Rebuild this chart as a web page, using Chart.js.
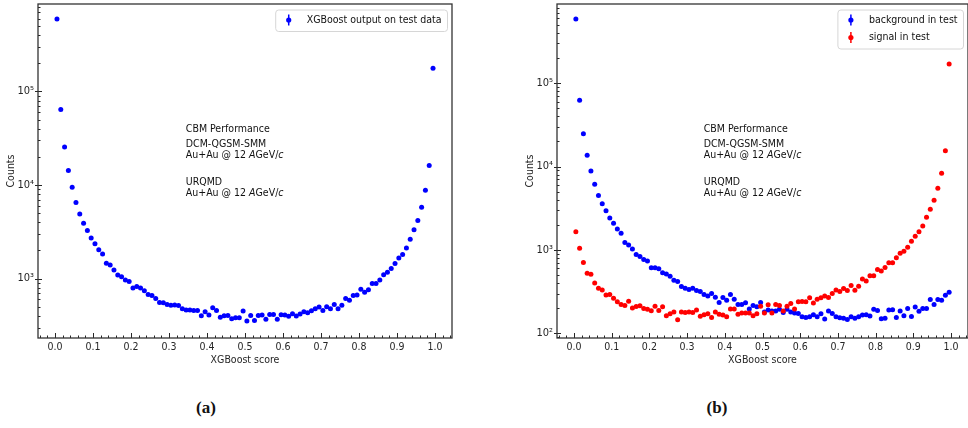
<!DOCTYPE html>
<html>
<head>
<meta charset="utf-8">
<script src="https://cdn.jsdelivr.net/npm/chart.js@4.4.1/dist/chart.umd.min.js"></script>
<style>
  body { margin: 0; width: 968px; height: 428px; overflow: hidden; background: #fff; position: relative; }
  .panel { position: absolute; top: 0; height: 370px; }
  .cap { position: absolute; top: 398px; font: bold 17px "Liberation Serif", serif; color: #111; transform: translateX(-50%); }
</style>
</head>
<body>
<div class="panel" style="left:0;width:470px"><canvas id="chartA"></canvas></div>
<div class="panel" style="left:519px;width:453px"><canvas id="chartB"></canvas></div>
<div class="cap" style="left:206px">(a)</div>
<div class="cap" style="left:717px">(b)</div>
<script>
// histogram bin centres of the classifier score
const scoreBins = [
  0.005, 0.015, 0.025, 0.035, 0.045, 0.055, 0.065, 0.075, 0.085, 0.095,
  0.105, 0.115, 0.125, 0.135, 0.145, 0.155, 0.165, 0.175, 0.185, 0.195,
  0.205, 0.215, 0.225, 0.235, 0.245, 0.255, 0.265, 0.275, 0.285, 0.295,
  0.305, 0.315, 0.325, 0.335, 0.345, 0.355, 0.365, 0.375, 0.385, 0.395,
  0.405, 0.415, 0.425, 0.435, 0.445, 0.455, 0.465, 0.475, 0.485, 0.495,
  0.505, 0.515, 0.525, 0.535, 0.545, 0.555, 0.565, 0.575, 0.585, 0.595,
  0.605, 0.615, 0.625, 0.635, 0.645, 0.655, 0.665, 0.675, 0.685, 0.695,
  0.705, 0.715, 0.725, 0.735, 0.745, 0.755, 0.765, 0.775, 0.785, 0.795,
  0.805, 0.815, 0.825, 0.835, 0.845, 0.855, 0.865, 0.875, 0.885, 0.895,
  0.905, 0.915, 0.925, 0.935, 0.945, 0.955, 0.965, 0.975, 0.985, 0.995
];

// all test candidates
const testCounts = [
  593000, 64000, 25500, 14300, 9450, 6500, 4900, 3900, 3270, 2710,
  2360, 2040, 1830, 1460, 1400, 1240, 1090, 1050, 968, 929,
  796, 822, 796, 740, 676, 660, 613, 556, 553, 528,
  520, 523, 516, 476, 461, 461, 456, 456, 401, 443,
  408, 488, 457, 387, 401, 403, 372, 381, 381, 450,
  352, 404, 357, 404, 408, 369, 414, 414, 369, 411,
  408, 395, 421, 398, 418, 443, 432, 453, 476, 496,
  457, 500, 476, 528, 476, 520, 613, 587, 660, 670,
  769, 716, 759, 885, 885, 968, 1100, 1170, 1280, 1450,
  1660, 1810, 2120, 2640, 3320, 4170, 5800, 8800, 16200, 177000
];

// background part of the test sample
const backgroundCounts = [
  587000, 62200, 24700, 13700, 8870, 6150, 4500, 3580, 2960, 2420,
  2090, 1790, 1590, 1230, 1150, 1030, 883, 836, 771, 736,
  614, 614, 597, 535, 515, 483, 433, 418, 364, 347,
  335, 347, 326, 318, 292, 281, 300, 272, 235, 270,
  250, 292, 257, 222, 222, 233, 196, 216, 208, 235,
  181, 190, 185, 185, 194, 178, 195, 181, 175, 173,
  158, 155, 158, 167, 158, 172, 149, 185, 173, 158,
  154, 152, 147, 158, 152, 158, 166, 167, 162, 194,
  188, 150, 152, 190, 192, 155, 185, 163, 199, 159,
  207, 184, 199, 199, 255, 222, 255, 250, 287, 312
];

// signal part of the test sample
const signalCounts = [
  1650, 1050, 710, 525, 511, 402, 347, 332, 289, 292,
  264, 239, 222, 216, 243, 201, 210, 214, 199, 194,
  187, 212, 188, 208, 163, 172, 181, 146, 181, 178,
  180, 178, 190, 160, 167, 172, 155, 180, 170, 166,
  158, 196, 196, 169, 175, 175, 175, 163, 172, 212,
  175, 220, 175, 222, 216, 185, 212, 228, 196, 239,
  241, 239, 267, 232, 257, 267, 281, 269, 301, 332,
  318, 345, 327, 374, 330, 368, 449, 425, 492, 492,
  585, 558, 618, 703, 703, 807, 916, 968, 1080, 1270,
  1460, 1650, 1940, 2460, 3070, 3950, 5500, 8300, 15500, 170000
];

const scoreTicks = [0.0, 0.1, 0.2, 0.3, 0.4, 0.5, 0.6, 0.7, 0.8, 0.9, 1.0];
const countTicksA = [1e3, 1e4, 1e5];
const countTicksB = [1e2, 1e3, 1e4, 1e5];

// text block: [text, italic] pieces per line
const noteLines = [
  [['CBM Performance', false]],
  [['DCM-QGSM-SMM', false]],
  [['Au+Au @ 12 ', false], ['A', true], ['GeV/', false], ['c', true]],
  [['URQMD', false]],
  [['Au+Au @ 12 ', false], ['A', true], ['GeV/', false], ['c', true]]
];

const FAMILY = '"DejaVu Sans Condensed", "DejaVu Sans", sans-serif';
const INK = '#262626';
const BLUE = '#0000ff';
const RED = '#ff0000';

const SUP = { '0': '\u2070', '1': '\u00b9', '2': '\u00b2', '3': '\u00b3', '4': '\u2074',
              '5': '\u2075', '6': '\u2076', '7': '\u2077', '8': '\u2078', '9': '\u2079' };
function powLabel(v) {
  const e = String(Math.round(Math.log10(v)));
  return '10' + e.split('').map(d => SUP[d]).join('');
}

function asPoints(counts) {
  return scoreBins.map((x, i) => ({ x: x, y: counts[i] }));
}

// box, inward ticks (major + minor) like a matplotlib axes
const frameTicks = {
  id: 'frameTicks',
  afterDatasetsDraw(chart) {
    const { ctx, chartArea: a, scales: { x, y } } = chart;
    ctx.save();
    ctx.strokeStyle = INK;
    ctx.lineWidth = 1;
    ctx.beginPath();
    for (let k = -2; k <= 52; k++) {
      const px = Math.round(x.getPixelForValue(k / 50)) + 0.5;
      if (px < a.left || px > a.right) continue;
      const len = k % 5 === 0 ? 5 : 2.5;
      ctx.moveTo(px, a.bottom);
      ctx.lineTo(px, a.bottom - len);
    }
    const lo = Math.floor(Math.log10(y.min)), hi = Math.ceil(Math.log10(y.max));
    for (let d = lo; d <= hi; d++) {
      for (let m = 1; m <= 9; m++) {
        const v = m * Math.pow(10, d);
        if (v < y.min || v > y.max) continue;
        const py = Math.round(y.getPixelForValue(v)) + 0.5;
        if (m === 1) { ctx.moveTo(a.left - 3, py); ctx.lineTo(a.left + 4, py); }
        else { ctx.moveTo(a.left, py); ctx.lineTo(a.left + 2.5, py); }
      }
    }
    ctx.stroke();
    ctx.lineWidth = 1.3;
    ctx.strokeStyle = '#333';
    ctx.strokeRect(a.left, a.top, a.right - a.left, a.bottom - a.top);
    ctx.restore();
  }
};

const noteText = {
  id: 'noteText',
  afterDraw(chart) {
    const { ctx, chartArea: a } = chart;
    const lineY = [125, 140, 151, 178, 189];
    const x0 = a.left + 0.357 * (a.right - a.left);
    ctx.save();
    ctx.fillStyle = '#111';
    ctx.textBaseline = 'middle';
    noteLines.forEach((line, i) => {
      let x = x0;
      line.forEach(([t, it]) => {
        ctx.font = (it ? 'italic ' : '') + '10.5px ' + FAMILY;
        ctx.fillText(t, x, a.top + lineY[i]);
        x += ctx.measureText(t).width;
      });
    });
    ctx.restore();
  }
};

const boxLegend = {
  id: 'boxLegend',
  afterDraw(chart, args, opts) {
    const { ctx, chartArea: a } = chart;
    const items = opts.items || [];
    ctx.save();
    ctx.font = '10.5px ' + FAMILY;
    const tw = Math.max(...items.map(it => ctx.measureText(it.label).width));
    const w = 31 + tw + 6, rowH = 17.5, h = 4 + rowH * items.length;
    const bx = a.right - 4.5 - w, by = a.top + 6;
    ctx.beginPath();
    ctx.roundRect(bx, by, w, h, 3);
    ctx.fillStyle = 'rgba(255,255,255,0.8)';
    ctx.fill();
    ctx.strokeStyle = '#d6d6d6';
    ctx.lineWidth = 1;
    ctx.stroke();
    ctx.textBaseline = 'middle';
    items.forEach((it, i) => {
      const cy = by + 10 + rowH * i, mx = bx + 13;
      ctx.strokeStyle = it.color;
      ctx.lineWidth = 1.5;
      ctx.beginPath();
      ctx.moveTo(mx, cy - 5.5);
      ctx.lineTo(mx, cy + 5.5);
      ctx.stroke();
      ctx.fillStyle = it.color;
      ctx.beginPath();
      ctx.arc(mx, cy, 2.6, 0, Math.PI * 2);
      ctx.fill();
      ctx.fillStyle = '#111';
      ctx.fillText(it.label, bx + 31, cy);
    });
    ctx.restore();
  }
};

function buildChart(id, datasets, yMin, yMax, yTicks, legendItems, padRight) {
  const font = { family: FAMILY, size: 10.5 };
  return new Chart(document.getElementById(id), {
    type: 'scatter',
    data: { datasets: datasets },
    options: {
      responsive: true,
      maintainAspectRatio: false,
      animation: false,
      layout: { padding: { top: 2, right: padRight, bottom: 0, left: 0 } },
      plugins: {
        legend: { display: false },
        tooltip: { enabled: false },
        boxLegend: { items: legendItems }
      },
      scales: {
        x: {
          type: 'linear',
          min: -0.045,
          max: 1.045,
          afterBuildTicks: s => { s.ticks = scoreTicks.map(value => ({ value })); },
          afterFit: s => { s.height = 32; s.paddingLeft = 0; s.paddingRight = 0; },
          grid: { display: false, drawTicks: false },
          border: { display: false },
          ticks: { autoSkip: false, maxRotation: 0, padding: 3, color: INK, font: font,
                   callback: v => v.toFixed(1) },
          title: { display: true, text: 'XGBoost score', color: INK, font: font,
                   padding: { top: 0, bottom: 3 } }
        },
        y: {
          type: 'logarithmic',
          min: yMin,
          max: yMax,
          afterBuildTicks: s => { s.ticks = yTicks.map(value => ({ value })); },
          afterFit: s => { s.width = 38; s.paddingTop = 0; s.paddingBottom = 0; },
          grid: { display: false, drawTicks: false },
          border: { display: false },
          ticks: { autoSkip: false, padding: 4, color: INK, font: { family: FAMILY, size: 11 },
                   callback: v => powLabel(v) },
          title: { display: true, text: 'Counts', color: INK, font: font,
                   padding: { top: 5, bottom: 0 } }
        }
      }
    },
    plugins: [frameTicks, noteText, boxLegend]
  });
}

const dot = { pointRadius: 2.5, pointBorderWidth: 0, showLine: false };

buildChart('chartA', [
  Object.assign({ label: 'XGBoost output on test data', data: asPoints(testCounts),
                  backgroundColor: BLUE, borderColor: BLUE }, dot)
], 232, 8.6e5, countTicksA,
  [{ label: 'XGBoost output on test data', color: BLUE }], 18);

buildChart('chartB', [
  Object.assign({ label: 'background in test', data: asPoints(backgroundCounts),
                  backgroundColor: BLUE, borderColor: BLUE, order: 2 }, dot),
  Object.assign({ label: 'signal in test', data: asPoints(signalCounts),
                  backgroundColor: RED, borderColor: RED, order: 1 }, dot)
], 88, 8.9e5, countTicksB,
  [{ label: 'background in test', color: BLUE }, { label: 'signal in test', color: RED }], 2);
</script>
</body>
</html>
